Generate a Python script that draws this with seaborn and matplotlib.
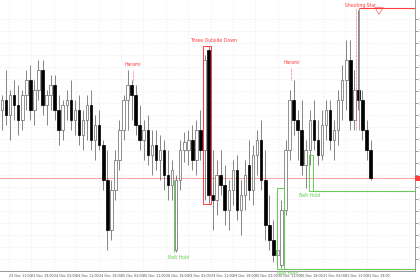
import matplotlib
matplotlib.use("Agg")
import matplotlib.pyplot as plt
import seaborn as sns
import pandas as pd
import numpy as np
from matplotlib.patches import Rectangle

opens = [1.2190,1.2200,1.2185,1.2205,1.2195,1.2180,1.2205,1.2220,1.2190,1.2210,
         1.2230,1.2195,1.2205,1.2215,1.2190,1.2170,1.2195,1.2200,1.2180,1.2190,
         1.2165,1.2180,1.2195,1.2160,1.2175,1.2155,1.2120,1.2070,1.2110,1.2140,
         1.2170,1.2200,1.2215,1.2205,1.2175,1.2160,1.2170,1.2145,1.2155,1.2140,
         1.2150,1.2125,1.2115,1.2050,1.2120,1.2150,1.2150,1.2160,1.2140,1.2170,
         1.2150,1.2250,1.2105,1.2100,1.2125,1.2115,1.2090,1.2110,1.2130,1.2090,
         1.2105,1.2135,1.2110,1.2145,1.2160,1.2120,1.2075,1.2060,1.2045,1.2035,
         1.2090,1.2150,1.2200,1.2180,1.2170,1.2135,1.2150,1.2180,1.2160,1.2145,
         1.2175,1.2190,1.2160,1.2170,1.2200,1.2220,1.2240,1.2180,1.2210,1.2200,
         1.2170,1.2150]
highs = [1.2205,1.2230,1.2210,1.2220,1.2215,1.2210,1.2230,1.2235,1.2220,1.2240,
         1.2240,1.2210,1.2225,1.2225,1.2205,1.2200,1.2210,1.2220,1.2200,1.2205,
         1.2190,1.2205,1.2210,1.2185,1.2190,1.2160,1.2150,1.2120,1.2150,1.2180,
         1.2205,1.2230,1.2220,1.2215,1.2195,1.2180,1.2185,1.2170,1.2170,1.2165,
         1.2160,1.2150,1.2140,1.2125,1.2160,1.2168,1.2170,1.2175,1.2180,1.2190,
         1.2245,1.2254,1.2150,1.2140,1.2150,1.2135,1.2120,1.2140,1.2145,1.2120,
         1.2140,1.2160,1.2155,1.2170,1.2180,1.2150,1.2105,1.2080,1.2070,1.2100,
         1.2160,1.2210,1.2220,1.2190,1.2200,1.2160,1.2190,1.2200,1.2180,1.2190,
         1.2200,1.2200,1.2180,1.2210,1.2235,1.2260,1.2260,1.2230,1.2290,1.2210,
         1.2180,1.2160]
lows = [1.2170,1.2175,1.2160,1.2180,1.2165,1.2170,1.2190,1.2180,1.2175,1.2200,
        1.2185,1.2175,1.2190,1.2180,1.2155,1.2160,1.2180,1.2170,1.2165,1.2155,
        1.2150,1.2160,1.2150,1.2140,1.2150,1.2110,1.2050,1.2060,1.2100,1.2130,
        1.2160,1.2170,1.2180,1.2165,1.2150,1.2140,1.2135,1.2125,1.2130,1.2120,
        1.2110,1.2100,1.2100,1.2048,1.2110,1.2138,1.2135,1.2130,1.2125,1.2140,
        1.2100,1.2096,1.2070,1.2085,1.2105,1.2075,1.2070,1.2095,1.2080,1.2065,
        1.2090,1.2100,1.2095,1.2125,1.2110,1.2060,1.2050,1.2038,1.2032,1.2032,
        1.2085,1.2140,1.2165,1.2140,1.2125,1.2112,1.2135,1.2150,1.2135,1.2140,
        1.2160,1.2150,1.2140,1.2155,1.2180,1.2190,1.2170,1.2170,1.2190,1.2160,
        1.2140,1.2120]
closes = [1.2200,1.2185,1.2205,1.2195,1.2180,1.2205,1.2220,1.2190,1.2210,1.2230,
          1.2195,1.2205,1.2215,1.2190,1.2170,1.2195,1.2200,1.2180,1.2190,1.2165,
          1.2180,1.2195,1.2160,1.2175,1.2155,1.2120,1.2070,1.2110,1.2140,1.2170,
          1.2200,1.2215,1.2205,1.2175,1.2160,1.2170,1.2145,1.2155,1.2140,1.2150,
          1.2125,1.2115,1.2130,1.2120,1.2150,1.2158,1.2160,1.2140,1.2170,1.2150,
          1.2240,1.2105,1.2100,1.2125,1.2115,1.2090,1.2110,1.2130,1.2090,1.2105,
          1.2125,1.2110,1.2145,1.2160,1.2120,1.2075,1.2060,1.2045,1.2050,1.2090,
          1.2150,1.2200,1.2180,1.2170,1.2135,1.2150,1.2180,1.2160,1.2145,1.2175,
          1.2190,1.2160,1.2170,1.2200,1.2220,1.2240,1.2180,1.2210,1.2200,1.2170,
          1.2150,1.2122]

x_labels = ["23 Dec 11:00", "23 Dec 19:00", "24 Dec 03:00", "24 Dec 11:00", "24 Dec 19:00",
            "25 Dec 03:00", "26 Dec 11:00", "26 Dec 19:00", "29 Dec 03:00", "29 Dec 11:00",
            "29 Dec 19:00", "30 Dec 03:00", "30 Dec 11:00", "30 Dec 19:00", "31 Dec 03:00",
            "31 Dec 11:00", "31 Dec 19:00"]
y_ticks = [1.2281, 1.2269, 1.2257, 1.2245, 1.2233, 1.2221, 1.2209, 1.2197, 1.2185, 1.2173,
           1.2161, 1.2149, 1.2137, 1.2125, 1.2113, 1.2101, 1.2089, 1.2077, 1.2065, 1.2053,
           1.2041]

sns.set_theme(style="white")
plt.rcParams['font.family'] = ['DejaVu Sans']

df = pd.DataFrame({"open": opens, "high": highs, "low": lows, "close": closes})
df["idx"] = np.arange(len(df))
df["bull"] = df["close"] >= df["open"]

fig = plt.figure(figsize=(4.2, 2.8), dpi=100)
ax = fig.add_axes([0, 9/280, 415/420, 271/280])
sp = 4.05
ax.set_xlim(-2/sp, 413/sp)
ax.set_ylim(1.2029, 1.2300)

# grid
xt = [(9 + 22.4*k - 2)/sp for k in range(len(x_labels))]
for v in xt:
    ax.axvline(v, color="#dcdcdc", lw=0.4, ls=(0, (1, 2)), zorder=0)
for v in y_ticks:
    ax.axhline(v, color="#dcdcdc", lw=0.4, ls=(0, (1, 2)), zorder=0)

# candles
ax.vlines(df["idx"], df["low"], df["high"], color="#555555", lw=0.5, zorder=2)
bw = 0.62
for _, r in df.iterrows():
    lo = min(r["open"], r["close"]); h = abs(r["close"] - r["open"])
    if r["bull"]:
        ax.add_patch(Rectangle((r["idx"]-bw/2, lo), bw, max(h, 0.00005), facecolor="white",
                               edgecolor="#666666", lw=0.5, zorder=3))
    else:
        ax.add_patch(Rectangle((r["idx"]-bw/2, lo), bw, max(h, 0.00005), facecolor="black",
                               edgecolor="black", lw=0.5, zorder=3))

red = "#ff3b3b"; green = "#66cc55"
last = closes[-1]
ax.axhline(last, color="#ff9090", lw=0.6, zorder=1)
# price marker on the axis
ax.add_patch(Rectangle((1.0, last - 0.00025), 0.012, 0.0005, transform=ax.get_yaxis_transform(),
                       facecolor=red, edgecolor="none", clip_on=False, zorder=5))

fs = 3.3
# Harami 1
ax.text(32.3, 1.2233, "Harami", color=red, fontsize=fs, ha="center", va="bottom")
ax.vlines(32.3, 1.2218, 1.2230, color=red, lw=0.5, ls=(0, (1, 1)))
# Harami 2
ax.text(71.6, 1.2235, "Harami", color=red, fontsize=fs, ha="center", va="bottom")
ax.vlines(71.4, 1.2220, 1.2232, color=red, lw=0.5, ls=(0, (1, 1)))
# Three Outside Down
ax.text(52.3, 1.2257, "Three Outside Down", color=red, fontsize=fs, ha="center", va="bottom")
ax.add_patch(Rectangle((49.7, 1.2096), 1.8, 0.0158, fill=False, edgecolor=red, lw=0.7, zorder=4))
# Shooting star
ax.text(88.4, 1.2295, "Shooting Star", color=red, fontsize=fs, ha="center", va="center")
ax.vlines(87.4, 1.2170, 1.2292, color=red, lw=0.5, ls=(0, (1, 1)), zorder=4)
ax.vlines(88.2, 1.2170, 1.2292, color="#888888", lw=0.6, zorder=4)
ax.hlines(1.2292, 88.2, 102, color=red, lw=0.8, zorder=4)
ax.annotate("", xy=(93.1, 1.2283), xytext=(93.1, 1.2290),
            arrowprops=dict(arrowstyle="simple,head_width=0.5,head_length=0.4,tail_width=0.2",
                            fc="white", ec=red, lw=0.4))
# Belt hold 1
ax.vlines(42.5, 1.2048, 1.2120, color=green, lw=0.7, zorder=4)
ax.text(43.5, 1.2045, "Belt Hold", color=green, fontsize=fs, ha="center", va="top")
# Belt hold 2
ax.add_patch(Rectangle((75.8, 1.2109), 1.0, 0.0036, fill=False, edgecolor=green, lw=0.7, zorder=4))
ax.hlines(1.2109, 76.8, 102, color=green, lw=0.8, zorder=4)
ax.text(76.0, 1.2107, "Belt Hold", color=green, fontsize=fs, ha="center", va="top")
# Belt hold 3 (bottom)
ax.add_patch(Rectangle((67.9, 1.2031), 1.7, 0.0081, fill=False, edgecolor=green, lw=0.7, zorder=4))
ax.hlines(1.2031, 69.6, 102, color=green, lw=0.8, zorder=4)
ax.text(70.5, 1.2029, "Belt Hold", color=green, fontsize=fs, ha="center", va="top", clip_on=False)

# axes
ax.set_xticks(xt)
ax.set_xticklabels(x_labels, fontsize=2.4, ha="left", color="#333333")
ax.yaxis.tick_right()
ax.set_yticks(y_ticks)
ax.set_yticklabels([f"{v:.4f}" for v in y_ticks], fontsize=2.6, color="#333333")
ax.tick_params(axis="both", length=2, width=0.4, pad=0.5, colors="#555555")
for s in ["top", "left"]:
    ax.spines[s].set_visible(False)
for s in ["right", "bottom"]:
    ax.spines[s].set_color("#888888")
    ax.spines[s].set_linewidth(0.6)

fig.savefig("out.png", dpi=100)
